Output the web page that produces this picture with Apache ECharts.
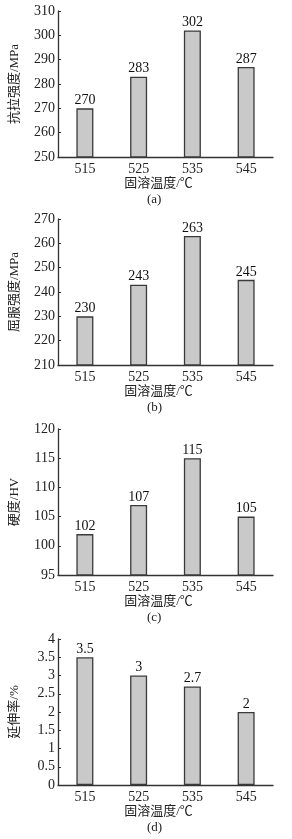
<!DOCTYPE html>
<html><head><meta charset="utf-8">
<script src="https://cdn.jsdelivr.net/npm/echarts@6/dist/echarts.min.js"></script>
<style>html,body{margin:0;padding:0;background:#fff}#c{width:292px;height:839px}</style>
</head><body><div id="c"></div>
<script>
const categories = ['515', '525', '535', '545'];
const tensile = [270, 283, 302, 287];
const yieldStr = [230, 243, 263, 245];
const hardness = [102, 107, 115, 105];
const elongation = [3.5, 3, 2.7, 2];
const yNames = ['抗拉强度/MPa', '屈服强度/MPa', '硬度/HV', '延伸率/%'];
const yMins = [250, 210, 95, 0];
const yMaxs = [310, 270, 120, 4];
const yIntervals = [10, 10, 5, 0.5];
const xName = '固溶温度/℃';
const panelTags = ['(a)', '(b)', '(c)', '(d)'];
const seriesData = [tensile, yieldStr, hardness, elongation];

const FONT = '"Liberation Serif", "Noto Sans CJK SC", serif';
const tops = [11, 219, 429, 639];
const chart = echarts.init(document.getElementById('c'));
const grids = [], xAxes = [], yAxes = [], series = [], graphics = [];
tops.forEach((t, i) => {
  grids.push({left: 53, width: 220, top: t, height: 146});
  xAxes.push({
    type: 'category', gridIndex: i, data: categories,
    axisLine: {lineStyle: {color: '#333', width: 1.3}},
    axisTick: {show: false},
    axisLabel: {color: '#222', fontFamily: FONT, fontSize: 14, margin: 5},
    name: xName, nameLocation: 'middle', nameGap: 20,
    nameTextStyle: {color: '#222', fontFamily: FONT, fontSize: 13, padding: [0, 14, 0, 0]}
  });
  yAxes.push({
    type: 'value', gridIndex: i, min: yMins[i], max: yMaxs[i], interval: yIntervals[i],
    axisLine: {show: true, lineStyle: {color: '#333', width: 1.3}},
    axisTick: {show: true, inside: true, length: 3, lineStyle: {color: '#333'}},
    splitLine: {show: false},
    axisLabel: {color: '#222', fontFamily: FONT, fontSize: 14, margin: 3},
    name: yNames[i], nameLocation: 'middle', nameGap: 37, nameRotate: 90,
    nameTextStyle: {color: '#222', fontFamily: FONT, fontSize: 13}
  });
  series.push({
    type: 'bar', xAxisIndex: i, yAxisIndex: i, data: seriesData[i], barWidth: 17,
    itemStyle: {color: '#c9c9c9', borderColor: '#3a3a3a', borderWidth: 1.3},
    label: {show: true, position: 'top', distance: 1, color: '#111', fontFamily: FONT, fontSize: 14}
  });
  graphics.push({
    type: 'text', left: 147, top: t + 182,
    style: {text: panelTags[i], font: '13px ' + FONT, fill: '#222'}
  });
});
chart.setOption({
  backgroundColor: '#fff', animation: false,
  grid: grids, xAxis: xAxes, yAxis: yAxes, series: series, graphic: graphics
});
</script></body></html>
